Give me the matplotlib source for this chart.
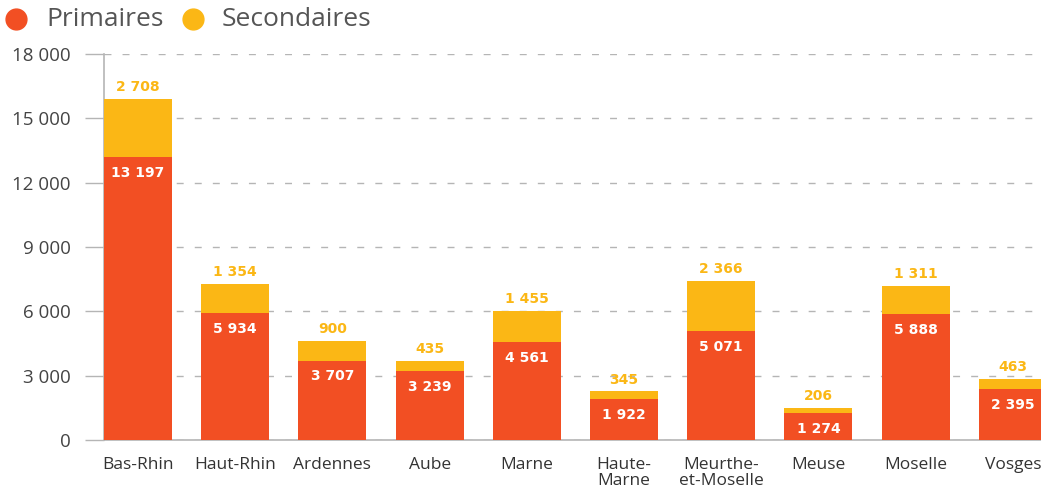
import matplotlib.pyplot as plt
from matplotlib.lines import Line2D

departements = ["Bas-Rhin", "Haut-Rhin", "Ardennes", "Aube", "Marne", "Haute-\nMarne",
                "Meurthe-\net-Moselle", "Meuse", "Moselle", "Vosges"]
primaires = [13197, 5934, 3707, 3239, 4561, 1922, 5071, 1274, 5888, 2395]
secondaires = [2708, 1354, 900, 435, 1455, 345, 2366, 206, 1311, 463]
yticks = [0, 3000, 6000, 9000, 12000, 15000, 18000]

RED = "#F24F23"
YELLOW = "#FBB715"
GREY_TXT = "#444444"
GREY_LINE = "#b5b5b5"


def fmt(v):
    """thousands with a space"""
    return f"{v:,}".replace(",", " ")


fig = plt.figure(figsize=(10.41, 4.9), dpi=100)
ax = fig.add_axes([104 / 1041, 1 - 440 / 490, 1 - 104 / 1041, (440 - 54) / 490])

x = list(range(len(departements)))
width = 0.70
ax.bar(x, primaires, width=width, color=RED, zorder=3)
ax.bar(x, secondaires, width=width, bottom=primaires, color=YELLOW, zorder=3)

# value labels
for i, (p, s) in enumerate(zip(primaires, secondaires)):
    ax.annotate(fmt(p), (i, p), xytext=(0, -11.5), textcoords="offset points",
                ha="center", va="center", color="white", fontsize=10,
                fontweight="bold", zorder=4)
    ax.annotate(fmt(s), (i, p + s), xytext=(0, 8.5), textcoords="offset points",
                ha="center", va="center", color=YELLOW, fontsize=10,
                fontweight="bold", zorder=4)

ax.set_xlim(-width / 2, len(departements) - 1 + 0.29)
ax.set_ylim(0, 18000)
ax.set_yticks(yticks)
ax.set_yticklabels([fmt(v) for v in yticks], fontsize=13.5, color=GREY_TXT,
                   family="Open Sans")
ax.set_xticks(x)
ax.set_xticklabels(departements, fontsize=12.5, color="#333333",
                   family="Open Sans", linespacing=1.0, va="top")
ax.tick_params(axis="y", length=14, width=1, color=GREY_LINE, pad=10)
ax.tick_params(axis="x", length=0, pad=12)

ax.grid(axis="y", linestyle=(0, (5, 8)), color=GREY_LINE, linewidth=1, zorder=0)
ax.set_axisbelow(True)
for side in ["top", "right"]:
    ax.spines[side].set_visible(False)
ax.spines["left"].set_color(GREY_LINE)
ax.spines["bottom"].set_color(GREY_LINE)
ax.spines["left"].set_linewidth(1.2)
ax.spines["bottom"].set_linewidth(1.2)

# legend at top-left
leg_y = 1 - 19 / 490
for cx, tx, label, col in [(16, 46, "Primaires", RED), (193, 222, "Secondaires", YELLOW)]:
    fig.add_artist(Line2D([cx / 1041], [leg_y], transform=fig.transFigure,
                          marker="o", markersize=15, color=col, linestyle="none"))
    fig.text(tx / 1041, leg_y, label, fontsize=19, color="#555555",
             family="Open Sans", va="center", ha="left")

fig.savefig("out.png", dpi=100)
